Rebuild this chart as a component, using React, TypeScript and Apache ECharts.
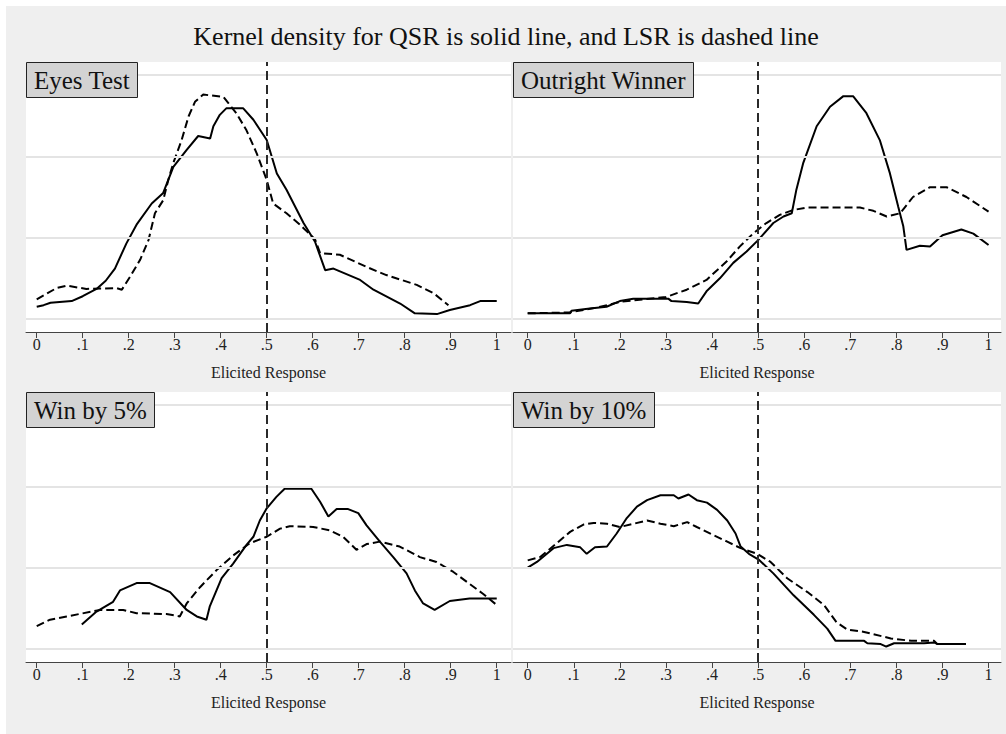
import React, { useEffect, useRef } from "react";
import * as echarts from "echarts";

const TITLE = "Kernel density for QSR is solid line, and LSR is dashed line";
const PANELS = ["Eyes Test", "Outright Winner", "Win by 5%", "Win by 10%"];
const X_TICKS = [0, 0.1, 0.2, 0.3, 0.4, 0.5, 0.6, 0.7, 0.8, 0.9, 1];
const Y_GRID = [0, 1, 2, 3];
const X_NAME = "Elicited Response";

const eyesQSR = [[0,0.15],[0.015,0.17],[0.03,0.2],[0.076,0.22],[0.1,0.28],[0.13,0.37],[0.15,0.47],[0.17,0.62],[0.195,0.93],[0.217,1.16],[0.25,1.42],[0.275,1.55],[0.297,1.87],[0.326,2.08],[0.351,2.25],[0.377,2.22],[0.384,2.37],[0.398,2.51],[0.412,2.59],[0.449,2.59],[0.471,2.45],[0.5,2.2],[0.522,1.79],[0.543,1.59],[0.58,1.18],[0.605,0.95],[0.627,0.6],[0.645,0.62],[0.703,0.48],[0.732,0.36],[0.79,0.19],[0.822,0.07],[0.87,0.06],[0.898,0.11],[0.942,0.17],[0.964,0.22],[1.0,0.22]];
const eyesLSR = [[0,0.24],[0.043,0.38],[0.065,0.41],[0.108,0.37],[0.174,0.38],[0.185,0.36],[0.203,0.52],[0.225,0.73],[0.243,0.97],[0.257,1.3],[0.275,1.46],[0.286,1.71],[0.297,1.92],[0.315,2.2],[0.33,2.49],[0.344,2.67],[0.362,2.76],[0.406,2.73],[0.434,2.53],[0.456,2.32],[0.478,2.04],[0.5,1.71],[0.514,1.42],[0.543,1.3],[0.572,1.16],[0.605,0.98],[0.616,0.81],[0.659,0.79],[0.717,0.64],[0.76,0.54],[0.826,0.42],[0.862,0.32],[0.895,0.17]];
const outrightQSR = [[0,0.07],[0.092,0.07],[0.095,0.1],[0.135,0.13],[0.171,0.15],[0.2,0.22],[0.229,0.25],[0.305,0.25],[0.312,0.22],[0.345,0.21],[0.37,0.19],[0.388,0.34],[0.417,0.5],[0.446,0.69],[0.475,0.83],[0.5,0.97],[0.533,1.18],[0.555,1.26],[0.573,1.3],[0.583,1.59],[0.598,1.92],[0.627,2.37],[0.656,2.61],[0.685,2.74],[0.706,2.74],[0.735,2.53],[0.764,2.2],[0.786,1.79],[0.804,1.38],[0.815,1.14],[0.822,0.85],[0.851,0.9],[0.873,0.89],[0.9,1.03],[0.941,1.1],[0.967,1.05],[1.0,0.91]];
const outrightLSR = [[0,0.07],[0.09,0.08],[0.15,0.14],[0.2,0.21],[0.25,0.24],[0.3,0.27],[0.345,0.36],[0.388,0.48],[0.432,0.71],[0.46,0.89],[0.489,1.05],[0.518,1.18],[0.547,1.28],[0.576,1.34],[0.605,1.37],[0.721,1.37],[0.75,1.33],[0.779,1.26],[0.808,1.3],[0.836,1.5],[0.873,1.62],[0.909,1.62],[0.952,1.5],[1.0,1.32]];
const win5QSR = [[0.098,0.3],[0.13,0.46],[0.166,0.58],[0.181,0.72],[0.217,0.81],[0.246,0.81],[0.29,0.7],[0.326,0.48],[0.348,0.4],[0.369,0.36],[0.376,0.52],[0.402,0.87],[0.427,1.05],[0.456,1.28],[0.471,1.38],[0.485,1.58],[0.5,1.73],[0.521,1.87],[0.539,1.97],[0.597,1.97],[0.616,1.81],[0.634,1.63],[0.652,1.72],[0.677,1.72],[0.699,1.67],[0.717,1.52],[0.746,1.32],[0.775,1.13],[0.804,0.93],[0.822,0.72],[0.84,0.56],[0.865,0.48],[0.898,0.59],[0.941,0.62],[1.0,0.62]];
const win5LSR = [[0,0.28],[0.029,0.36],[0.065,0.4],[0.138,0.48],[0.188,0.48],[0.217,0.44],[0.282,0.43],[0.311,0.4],[0.326,0.56],[0.355,0.76],[0.391,0.97],[0.427,1.15],[0.463,1.3],[0.5,1.38],[0.529,1.48],[0.55,1.51],[0.601,1.5],[0.637,1.46],[0.666,1.38],[0.695,1.22],[0.717,1.29],[0.746,1.32],[0.789,1.26],[0.833,1.13],[0.869,1.07],[0.905,0.95],[0.941,0.8],[0.97,0.68],[1.0,0.54]];
const win10QSR = [[0,1.0],[0.02,1.07],[0.056,1.24],[0.085,1.28],[0.114,1.25],[0.128,1.17],[0.146,1.25],[0.172,1.26],[0.193,1.42],[0.215,1.61],[0.237,1.75],[0.259,1.83],[0.288,1.89],[0.317,1.89],[0.327,1.85],[0.349,1.9],[0.367,1.83],[0.389,1.8],[0.411,1.71],[0.433,1.58],[0.451,1.42],[0.462,1.26],[0.48,1.17],[0.501,1.1],[0.533,0.93],[0.577,0.66],[0.621,0.42],[0.65,0.25],[0.668,0.1],[0.73,0.1],[0.737,0.07],[0.766,0.06],[0.778,0.03],[0.795,0.07],[0.86,0.07],[0.882,0.08],[0.889,0.06],[0.951,0.06]];
const win10LSR = [[0,1.09],[0.027,1.13],[0.063,1.3],[0.092,1.44],[0.121,1.53],[0.143,1.55],[0.172,1.54],[0.2,1.5],[0.23,1.54],[0.259,1.58],[0.288,1.54],[0.317,1.51],[0.346,1.56],[0.367,1.5],[0.403,1.4],[0.433,1.32],[0.462,1.24],[0.498,1.17],[0.527,1.07],[0.563,0.87],[0.607,0.7],[0.643,0.54],[0.67,0.33],[0.693,0.24],[0.73,0.21],[0.788,0.13],[0.832,0.1],[0.882,0.1],[0.889,0.06],[0.951,0.06]];

const QSR = [eyesQSR, outrightQSR, win5QSR, win10QSR];
const LSR = [eyesLSR, outrightLSR, win5LSR, win10LSR];

const FONT = "'Liberation Serif', 'DejaVu Serif', serif";

// grid layout in chart coords (chart div is offset 6px from page)
const GRIDS = [
  { left: 20, top: 56, width: 485, height: 270, xmin: -0.0233, xmax: 1.031 },
  { left: 507, top: 56, width: 488, height: 270, xmin: -0.0319, xmax: 1.027 },
  { left: 20, top: 386, width: 485, height: 270, xmin: -0.0233, xmax: 1.031 },
  { left: 507, top: 386, width: 488, height: 270, xmin: -0.0319, xmax: 1.027 },
];
const YMIN = -0.16;
const YMAX = 3.16;

function fmt(v: number) {
  if (Math.abs(v) < 1e-9) return "0";
  if (Math.abs(v - 1) < 1e-9) return "1";
  return "." + Math.round(v * 10);
}

export default function App() {
  const ref = useRef<HTMLDivElement>(null);
  useEffect(() => {
    if (!ref.current) return;
    const chart = echarts.init(ref.current, null, { renderer: "svg" });
    const series: any[] = [];
    GRIDS.forEach((_, i) => {
      series.push({
        type: "line",
        xAxisIndex: i,
        yAxisIndex: i,
        data: [],
        z: 1,
        silent: true,
        markLine: {
          silent: true,
          symbol: "none",
          animation: false,
          label: { show: false },
          lineStyle: { color: "#e4e4e4", width: 2, type: "solid" },
          data: Y_GRID.map((v) => ({ yAxis: v })),
        },
      });
      series.push({
        type: "line",
        name: "QSR",
        xAxisIndex: i,
        yAxisIndex: i,
        data: QSR[i],
        showSymbol: false,
        z: 3,
        lineStyle: { color: "#000", width: 2, type: "solid" },
      });
      series.push({
        type: "line",
        name: "LSR",
        xAxisIndex: i,
        yAxisIndex: i,
        data: LSR[i],
        showSymbol: false,
        z: 3,
        lineStyle: { color: "#000", width: 2, type: [8, 4] },
      });
      series.push({
        type: "line",
        xAxisIndex: i,
        yAxisIndex: i,
        data: [],
        z: 4,
        silent: true,
        markLine: {
          silent: true,
          symbol: "none",
          animation: false,
          label: { show: false },
          lineStyle: { color: "#2a2a2a", width: 2, type: [9, 5] },
          data: [{ xAxis: 0.5 }],
        },
      });
    });

    const option: any = {
      animation: false,
      backgroundColor: "#efefef",
      title: [
        {
          text: TITLE,
          left: "center",
          top: 17,
          padding: 0,
          textStyle: { fontFamily: FONT, fontSize: 26, fontWeight: "normal", color: "#111" },
        },
        ...PANELS.map((p, i) => ({
          text: p,
          left: GRIDS[i].left,
          top: GRIDS[i].top,
          padding: [5, 8, 5, 8],
          backgroundColor: "#d3d3d3",
          borderColor: "#222",
          borderWidth: 1,
          textStyle: { fontFamily: FONT, fontSize: 25, lineHeight: 26, fontWeight: "normal", color: "#111" },
        })),
      ],
      grid: GRIDS.map((g) => ({
        left: g.left,
        top: g.top,
        width: g.width,
        height: g.height,
        show: true,
        backgroundColor: "#ffffff",
        borderWidth: 0,
      })),
      xAxis: GRIDS.map((g, i) => ({
        type: "value",
        gridIndex: i,
        min: g.xmin,
        max: g.xmax,
        name: X_NAME,
        nameLocation: "middle",
        nameGap: 32,
        nameTextStyle: { fontFamily: FONT, fontSize: 16, color: "#222" },
        axisLine: { show: true, onZero: false, lineStyle: { color: "#444", width: 1 } },
        axisTick: { show: true, inside: false, length: 6, customValues: X_TICKS, lineStyle: { color: "#444" } },
        axisLabel: {
          show: true,
          customValues: X_TICKS,
          margin: 4,
          formatter: fmt,
          fontFamily: FONT,
          fontSize: 16,
          color: "#222",
        },
        splitLine: { show: false },
      })),
      yAxis: GRIDS.map((_, i) => ({
        type: "value",
        gridIndex: i,
        min: YMIN,
        max: YMAX,
        show: false,
        splitLine: { show: false },
      })),
      series,
    };
    chart.setOption(option);
    return () => chart.dispose();
  }, []);

  return (
    <div style={{ position: "fixed", left: 0, top: 0, width: 1006, height: 734, background: "#ffffff" }}>
      <div ref={ref} style={{ position: "absolute", left: 6, top: 6, width: 1000, height: 728 }} />
    </div>
  );
}
